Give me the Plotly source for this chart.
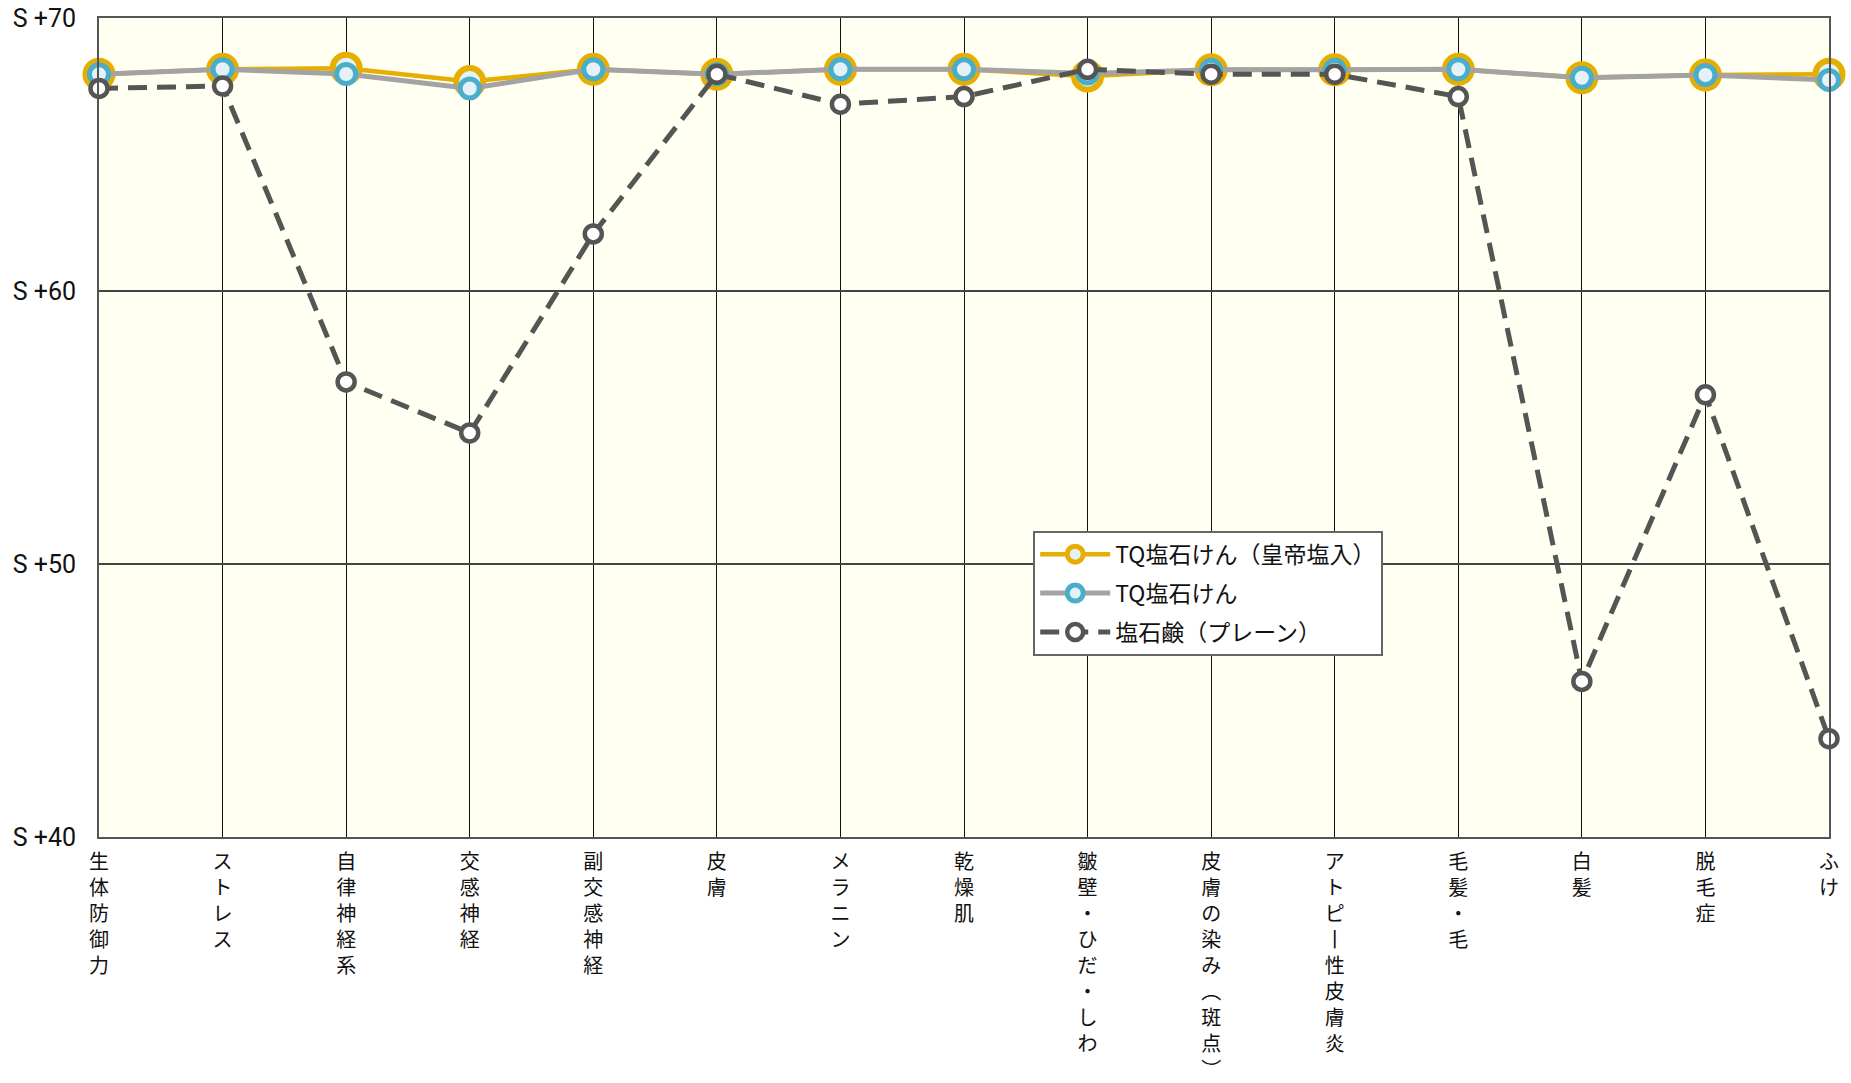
import plotly.graph_objects as go

categories = [
    "生体防御力", "ストレス", "自律神経系", "交感神経", "副交感神経",
    "皮膚", "メラニン", "乾燥肌", "皺壁・ひだ・しわ", "皮膚の染み（斑点）",
    "アトピー性皮膚炎", "毛髪・毛", "白髪", "脱毛症", "ふけ",
]
series_names = ["TQ塩石けん（皇帝塩入）", "TQ塩石けん", "塩石鹸（プレーン）"]
tq_koutei = [67.94, 68.12, 68.16, 67.67, 68.12, 67.94, 68.12, 68.12, 67.87, 68.1, 68.1, 68.12, 67.81, 67.91, 67.94]
tq = [67.94, 68.12, 67.95, 67.42, 68.12, 67.94, 68.12, 68.12, 67.97, 68.1, 68.1, 68.12, 67.81, 67.91, 67.73]
plain = [67.42, 67.51, 56.67, 54.8, 62.09, 67.94, 66.84, 67.12, 68.12, 67.94, 67.94, 67.12, 45.7, 56.2, 43.6]
y_ticks = [40, 50, 60, 70]
y_tick_labels = ["S +40", "S +50", "S +60", "S +70"]

VERT = {"（": "︵", "）": "︶", "ー": "丨"}


def vertical(label):
    return "<br>".join(VERT.get(c, c) for c in label)


x = list(range(len(categories)))
CJK = "Noto Sans CJK JP, Noto Sans, sans-serif"

fig = go.Figure()
fig.add_trace(go.Scatter(
    x=x, y=tq_koutei, name=series_names[0], mode="lines+markers",
    legendgroup="a", cliponaxis=False,
    line=dict(color="#E5AE00", width=4.5),
    marker=dict(size=27, color="#E4F2F8", line=dict(color="#E5AE00", width=6)),
))
fig.add_trace(go.Scatter(
    x=x, y=tq, name=series_names[1], mode="lines+markers",
    legendgroup="b", cliponaxis=False,
    line=dict(color="#A3A3A3", width=5),
    marker=dict(size=19, color="#E4F2F8", line=dict(color="#4AADC9", width=5)),
))
fig.add_trace(go.Scatter(
    x=x, y=plain, name=series_names[2], mode="lines+markers",
    legendgroup="c", cliponaxis=False,
    line=dict(color="#555555", width=5, dash="19px,10px"),
    marker=dict(size=17, color="#FFFFFF", line=dict(color="#555555", width=4.5)),
))

fig.update_layout(
    width=1851, height=1083, autosize=False,
    margin=dict(l=99, r=22, t=18, b=246, autoexpand=False),
    paper_bgcolor="#FFFFFF", plot_bgcolor="#FFFFF2",
    font=dict(family=CJK, color="#111111"),
    showlegend=True,
    legend=dict(
        x=0.54, y=0.374, xanchor="left", yanchor="top",
        bgcolor="#FFFFFF", bordercolor="#666666", borderwidth=2,
        font=dict(size=23, family=CJK, color="#111111"),
        tracegroupgap=6, itemwidth=70,
    ),
)
fig.update_xaxes(
    range=[0, len(categories) - 1], tickmode="array", tickvals=x,
    ticktext=[vertical(c) for c in categories],
    tickangle=0, showgrid=True, gridcolor="#111111", gridwidth=1,
    showline=True, linecolor="#555555", linewidth=2, mirror=True,
    ticks="", tickfont=dict(size=20, family=CJK, color="#111111"),
    zeroline=False, ticklabelstandoff=6, automargin=False,
)
fig.update_yaxes(
    range=[40, 70], tickmode="array", tickvals=y_ticks, ticktext=y_tick_labels,
    showgrid=True, gridcolor="#444444", gridwidth=1.5,
    showline=True, linecolor="#555555", linewidth=2, mirror=True,
    ticks="", zeroline=False, ticklabelstandoff=16, automargin=False,
    tickfont=dict(size=25, family="Roboto, sans-serif", color="#111111"),
)

fig.write_html(
    "out.html",
    config={"displayModeBar": False},
    post_script="document.body.style.margin='0';document.body.style.overflow='hidden';",
)
